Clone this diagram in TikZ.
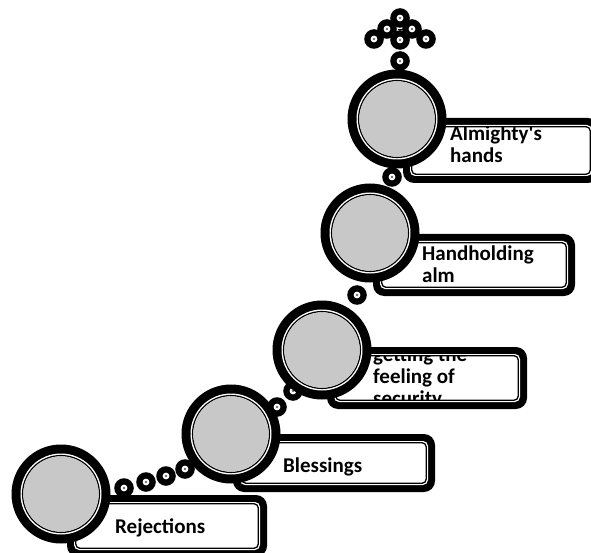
\documentclass[tikz,border=0pt]{standalone}
\usepackage{fontspec}
\setmainfont{Carlito}
\definecolor{discgray}{RGB}{200,200,200}
\definecolor{dotcore}{RGB}{110,110,110}
\tikzset{
  labeltext/.style={anchor=base west, inner sep=0pt, font=\bfseries\fontsize{21}{22}\selectfont, text=black},
}
% big disc: name, x, y
\newcommand\bigdisc[3]{%
  \fill[black] (#2,#3) circle (49.5pt);
  \fill[white] (#2,#3) circle (40.5pt);
  \draw[black, line width=1.3pt] (#2,#3) circle (38.4pt);
  \fill[discgray] (#2,#3) circle (37.7pt);
  \coordinate (#1) at (#2,#3);
}
% small dot: name, x, y
\newcommand\smalldot[3]{%
  \fill[black] (#2,#3) circle (9.8pt);
  \fill[white] (#2,#3) circle (3.4pt);
  \fill[dotcore] (#2,#3) circle (1.4pt);
  \coordinate (#1) at (#2,#3);
}
% tab: name, x1, y1, x2, y2
\newcommand\tabbox[5]{%
  \fill[black, rounded corners=11pt] (#2,#3) rectangle (#4,#5);
  \fill[white, rounded corners=5pt] (#2+7,#3+7) rectangle (#4-7,#5-7);
  \coordinate (#1) at (#2,#3);
}
\newcommand\tabline[4]{%
  \draw[black, line width=1.3pt, rounded corners=4pt] (#1+8.8,#2+8.8) rectangle (#3-8.8,#4-8.8);
}
\begin{document}
\begin{tikzpicture}[x=1pt,y=-1pt]
\useasboundingbox (0,0) rectangle (591,553);
\clip (0,0) rectangle (591,553);

% small dots
\smalldot{d1}{124}{488}
\smalldot{d2}{146}{482}
\smalldot{d3}{166}{476}
\smalldot{d4}{185}{469}
\smalldot{d5}{277}{407}
\smalldot{d6}{293}{391}
\smalldot{d7}{357}{295}
\smalldot{d8}{392}{177}
\smalldot{d9}{400}{61}
\smalldot{t1}{400}{18}
\smalldot{t2}{387}{29}
\smalldot{t3}{412}{29}
\smalldot{t4}{374}{39}
\smalldot{t5}{400}{40}
\smalldot{t6}{426}{39}
\draw[black, line width=1.4pt] (397.5,29.5) -- (402.5,29.5);

% step 1
\tabbox{b1}{67}{495}{267}{557}
\begin{scope}
  \clip[rounded corners=4pt] (76,504) rectangle (258,548);
  \node[labeltext] (l1) at (115,533) {Rejections};
\end{scope}
\tabline{67}{495}{267}{557}
\bigdisc{c1}{61}{494}

% step 2
\tabbox{b2}{233}{434}{435}{492}
\begin{scope}
  \clip[rounded corners=4pt] (242,443) rectangle (426,483);
  \node[labeltext] (l2) at (283,472) {Blessings};
\end{scope}
\tabline{233}{434}{435}{492}
\bigdisc{c2}{231}{434}

% step 3
\tabbox{b3}{327}{347}{527}{409}
\begin{scope}
  \clip[rounded corners=4pt] (336,356) rectangle (518,400);
  \node[labeltext] (l3) at (373,361) {\begin{tabular}[t]{@{}l@{}}getting the\\feeling of\\security\end{tabular}};
\end{scope}
\tabline{327}{347}{527}{409}
\bigdisc{c3}{322}{350}

% step 4
\tabbox{b4}{373}{234}{575}{296}
\begin{scope}
  \clip[rounded corners=4pt] (382,243) rectangle (566,287);
  \node[labeltext] (l4) at (422,260) {\begin{tabular}[t]{@{}l@{}}Handholding\\alm\end{tabular}};
\end{scope}
\tabline{373}{234}{575}{296}
\bigdisc{c4}{370}{233}

% step 5
\tabbox{b5}{403}{118}{599}{183}
\begin{scope}
  \clip[rounded corners=4pt] (412,127) rectangle (590,174);
  \node[labeltext] (l5) at (450,141) {\begin{tabular}[t]{@{}l@{}}Almighty\textquotesingle s\\hands\end{tabular}};
\end{scope}
\tabline{403}{118}{599}{183}
\bigdisc{c5}{397}{119}
\end{tikzpicture}
\end{document}
